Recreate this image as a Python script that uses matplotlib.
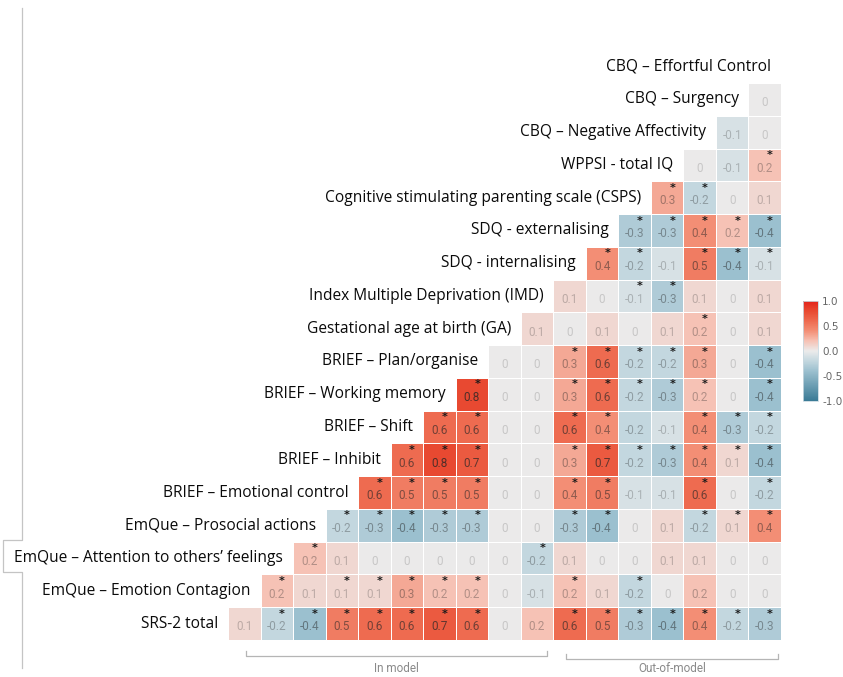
#!/usr/bin/env python3
"""Triangular correlation matrix of child outcome and covariate measures."""

import matplotlib.pyplot as plt
import numpy as np
from matplotlib.colors import LinearSegmentedColormap
from matplotlib.lines import Line2D

# variables, top to bottom (the diagonal of the triangle)
labels = [
    "CBQ – Effortful Control",
    "CBQ – Surgency",
    "CBQ – Negative Affectivity",
    "WPPSI - total IQ",
    "Cognitive stimulating parenting scale (CSPS)",
    "SDQ - externalising",
    "SDQ - internalising",
    "Index Multiple Deprivation (IMD)",
    "Gestational age at birth (GA)",
    "BRIEF – Plan/organise",
    "BRIEF – Working memory",
    "BRIEF – Shift",
    "BRIEF – Inhibit",
    "BRIEF – Emotional control",
    "EmQue – Prosocial actions",
    "EmQue – Attention to others’ feelings",
    "EmQue – Emotion Contagion",
    "SRS-2 total",
]

# r of each variable with the ones above it (nearest first), row by row
r_rows = [
    [0],
    [-0.1, 0],
    [0, -0.1, 0.2],
    [0.3, -0.2, 0, 0.1],
    [-0.3, -0.3, 0.4, 0.2, -0.4],
    [0.4, -0.2, -0.1, 0.5, -0.4, -0.1],
    [0.1, 0, -0.1, -0.3, 0.1, 0, 0.1],
    [0.1, 0, 0.1, 0, 0.1, 0.2, 0, 0.1],
    [0, 0, 0.3, 0.6, -0.2, -0.2, 0.3, 0, -0.4],
    [0.8, 0, 0, 0.3, 0.6, -0.2, -0.3, 0.2, 0, -0.4],
    [0.6, 0.6, 0, 0, 0.6, 0.4, -0.2, -0.1, 0.4, -0.3, -0.2],
    [0.6, 0.8, 0.7, 0, 0, 0.3, 0.7, -0.2, -0.3, 0.4, 0.1, -0.4],
    [0.6, 0.5, 0.5, 0.5, 0, 0, 0.4, 0.5, -0.1, -0.1, 0.6, 0, -0.2],
    [-0.2, -0.3, -0.4, -0.3, -0.3, 0, 0, -0.3, -0.4, 0, 0.1, -0.2, 0.1, 0.4],
    [0.2, 0.1, 0, 0, 0, 0, 0, -0.2, 0.1, 0, 0, 0.1, 0.1, 0, 0],
    [0.2, 0.1, 0.1, 0.1, 0.3, 0.2, 0.2, 0, -0.1, 0.2, 0.1, -0.2, 0, 0.2, 0, 0],
    [0.1, -0.2, -0.4, 0.5, 0.6, 0.6, 0.7, 0.6, 0, 0.2, 0.6, 0.5, -0.3, -0.4, 0.4, -0.2, -0.3],
]

# significance flags, same layout as r_rows
sig_rows = [
    [0],
    [0, 0],
    [0, 0, 1],
    [1, 1, 0, 0],
    [1, 1, 1, 1, 1],
    [1, 1, 0, 1, 1, 1],
    [0, 0, 1, 1, 0, 0, 0],
    [0, 0, 0, 0, 0, 1, 0, 0],
    [0, 0, 1, 1, 1, 1, 1, 0, 1],
    [1, 0, 0, 1, 1, 1, 1, 1, 0, 1],
    [1, 1, 0, 0, 1, 1, 0, 0, 1, 1, 1],
    [1, 1, 1, 0, 0, 1, 1, 1, 1, 1, 1, 1],
    [1, 1, 1, 1, 0, 0, 1, 1, 0, 0, 1, 0, 1],
    [1, 1, 1, 1, 1, 0, 0, 1, 1, 0, 0, 1, 1, 1],
    [1, 0, 0, 0, 0, 0, 0, 1, 0, 0, 0, 0, 0, 0, 0],
    [1, 0, 1, 1, 1, 1, 1, 0, 0, 1, 0, 1, 0, 0, 0, 0],
    [0, 1, 1, 1, 1, 1, 1, 1, 0, 0, 1, 1, 1, 1, 1, 1, 1],
]

groups = ["In model", "Out-of-model"]
group_spans = [(0.05, 9.3), (9.9, 16.4)]

n = len(r_rows)
mat = np.full((n, n), np.nan)
sig = np.zeros((n, n), dtype=bool)
for i, (vals, flags) in enumerate(zip(r_rows, sig_rows)):
    start = n - len(vals)
    mat[i, start:] = vals
    sig[i, start:] = np.asarray(flags, dtype=bool)

cmap = LinearSegmentedColormap.from_list(
    "corr",
    [
        (0.0, "#3a7a95"),
        (0.3, "#9cc0cf"),
        (0.4, "#c3d7df"),
        (0.5, "#ebebeb"),
        (0.6, "#f6c2b5"),
        (0.7, "#f38f76"),
        (0.8, "#ee6b50"),
        (0.9, "#e84a31"),
        (1.0, "#e3231b"),
    ],
)

W, H = 843, 677
fig = plt.figure(figsize=(W / 100, H / 100), dpi=100)
ax = fig.add_axes([228 / W, 1 - 640 / H, (781 - 228) / W, (640 - 83) / H])

edges = np.arange(n + 1) - 0.5
mesh = ax.pcolormesh(
    edges, edges, np.ma.masked_invalid(mat), cmap=cmap, vmin=-1, vmax=1,
    edgecolors="white", linewidth=0.4,
)
ax.set_xlim(-0.5, n - 0.5)
ax.set_ylim(n - 0.5, -0.5)
ax.axis("off")

for i in range(n):
    for j in range(n):
        v = mat[i, j]
        if np.isnan(v):
            continue
        txt = "0" if v == 0 else f"{v:.1f}"
        alpha = 0.18 + 0.75 * abs(v)
        ax.text(j, i + 0.1, txt, ha="center", va="center", fontsize=8.5,
                family="Roboto", color=(0.15, 0.15, 0.15, alpha))
        if sig[i, j]:
            ax.text(j + 0.16, i - 0.3, "*", ha="center", va="center",
                    fontsize=8, fontweight="bold", color="#1a1a1a")

# variable names sit on the diagonal, just left of each row's first cell
for k, name in enumerate(labels):
    row = k - 1
    first_col = n - k
    ax.text(first_col - 0.5 - 0.3, row, name, ha="right", va="center",
            fontsize=11.2, family="Open Sans", color="#0a0a0a", clip_on=False)

# in-model / out-of-model brackets under the bottom row
for name, (x0, x1), yb in zip(groups, group_spans, [16.98, 17.07]):
    ax.plot([x0, x0, x1, x1], [yb - 0.15, yb, yb, yb - 0.15], color="#b5b5b5",
            lw=0.9, clip_on=False)
    ax.text((x0 + x1) / 2, 17.36, name, ha="center", va="center", fontsize=8.5,
            family="Roboto", color="#8a8a8a", clip_on=False)

cax = fig.add_axes([803 / W, 1 - 401 / H, 15 / W, 100 / H])
cb = fig.colorbar(mesh, cax=cax, ticks=[-1, -0.5, 0, 0.5, 1])
cb.ax.set_yticklabels(["-1.0", "-0.5", "0.0", "0.5", "1.0"])
cb.ax.tick_params(length=0, labelsize=7.5, labelcolor="#666666", pad=3)
cb.outline.set_edgecolor("#c8d8e0")
cb.outline.set_linewidth(0.6)

# page margin rule on the left
px = [22, 22, 3, 3, 22, 22]
py = [8, 540, 540, 572, 572, 668]
fig.add_artist(Line2D([x / W for x in px], [1 - y / H for y in py],
                      transform=fig.transFigure, color="#c4c4c4", lw=0.9))

fig.savefig("out.png", dpi=100)
